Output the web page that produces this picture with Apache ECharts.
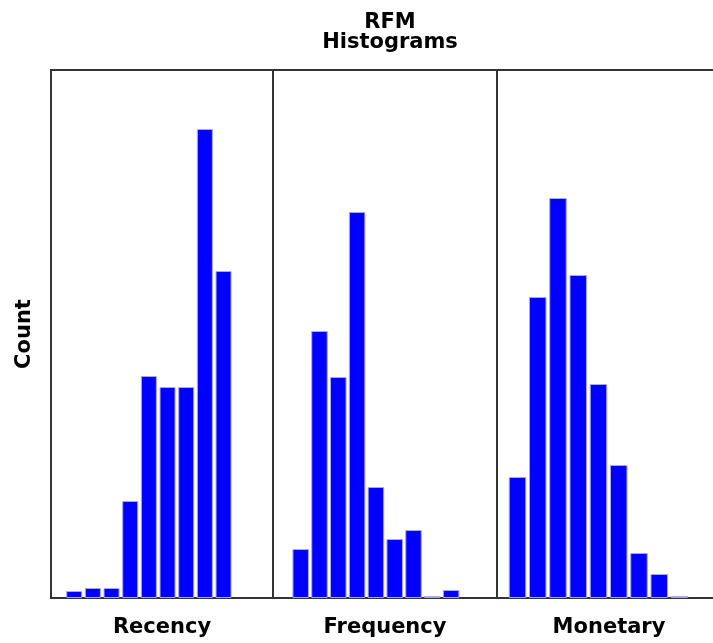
<!DOCTYPE html>
<html>
<head>
<meta charset="utf-8">
<script src="https://cdn.jsdelivr.net/npm/echarts@6/dist/echarts.min.js"></script>
<style>
  html, body { margin: 0; padding: 0; background: #fff; }
  #main { width: 713px; height: 643px; }
</style>
</head>
<body>
<div id="main"></div>
<script>
// 直方图数据（按柱高估读）
const panelNames = ['Recency', 'Frequency', 'Monetary']
const bins = [1, 2, 3, 4, 5, 6, 7, 8, 9]
const recency = [7, 10, 10, 97, 222, 211, 211, 469, 327]
const frequency = [49, 267, 221, 386, 111, 59, 68, 2, 8]
const monetary = [121, 301, 400, 323, 214, 133, 45, 24, 2]
const countMax = 528

const seriesValues = [recency, frequency, monetary]
// 每个面板的 x 范围（以柱序号为单位）
const xRanges = [[-0.243, 11.65], [-0.473, 11.44], [-0.012, 11.05]]
const barWidths = [16, 16.5, 17.5]
const grids = [
  { left: 51, width: 222 },
  { left: 273, width: 224 },
  { left: 497, width: 224 }
]

const font = 'DejaVu Sans'
const myChart = echarts.init(document.getElementById('main'), null, { renderer: 'canvas' })

const option = {
  backgroundColor: '#fff',
  animation: false,
  title: {
    text: 'RFM\nHistograms',
    left: 385,
    top: 8,
    textAlign: 'center',
    textStyle: {
      fontFamily: font,
      fontSize: 21,
      fontWeight: 'bold',
      lineHeight: 20,
      color: '#000'
    }
  },
  grid: grids.map(g => ({
    left: g.left,
    width: g.width,
    top: 70,
    bottom: 45,
    outerBoundsMode: 'none',
    containLabel: false,
    show: true,
    borderColor: '#333',
    borderWidth: 2,
    backgroundColor: 'transparent'
  })),
  xAxis: panelNames.map((name, i) => ({
    type: 'value',
    gridIndex: i,
    min: xRanges[i][0],
    max: xRanges[i][1],
    name: name,
    nameLocation: 'middle',
    nameGap: 19,
    nameTextStyle: { fontFamily: font, fontSize: 21, fontWeight: 'bold', color: '#000' },
    axisLine: { show: false },
    axisTick: { show: false },
    axisLabel: { show: false },
    splitLine: { show: false }
  })),
  yAxis: panelNames.map((name, i) => ({
    type: 'value',
    gridIndex: i,
    min: 0,
    max: countMax,
    name: i === 0 ? 'Count' : '',
    nameLocation: 'middle',
    nameRotate: 90,
    nameGap: 16,
    nameTextStyle: { fontFamily: font, fontSize: 21, fontWeight: 'bold', color: '#000' },
    axisLine: { show: false },
    axisTick: { show: false },
    axisLabel: { show: false },
    splitLine: { show: false }
  })),
  series: seriesValues.map((vals, i) => ({
    type: 'bar',
    xAxisIndex: i,
    yAxisIndex: i,
    barWidth: barWidths[i],
    data: vals.map((v, k) => [bins[k], v]),
    itemStyle: {
      color: '#0000ff',
      borderColor: '#a6a6ff',
      borderWidth: 1
    }
  }))
}
option && myChart.setOption(option)
</script>
</body>
</html>
